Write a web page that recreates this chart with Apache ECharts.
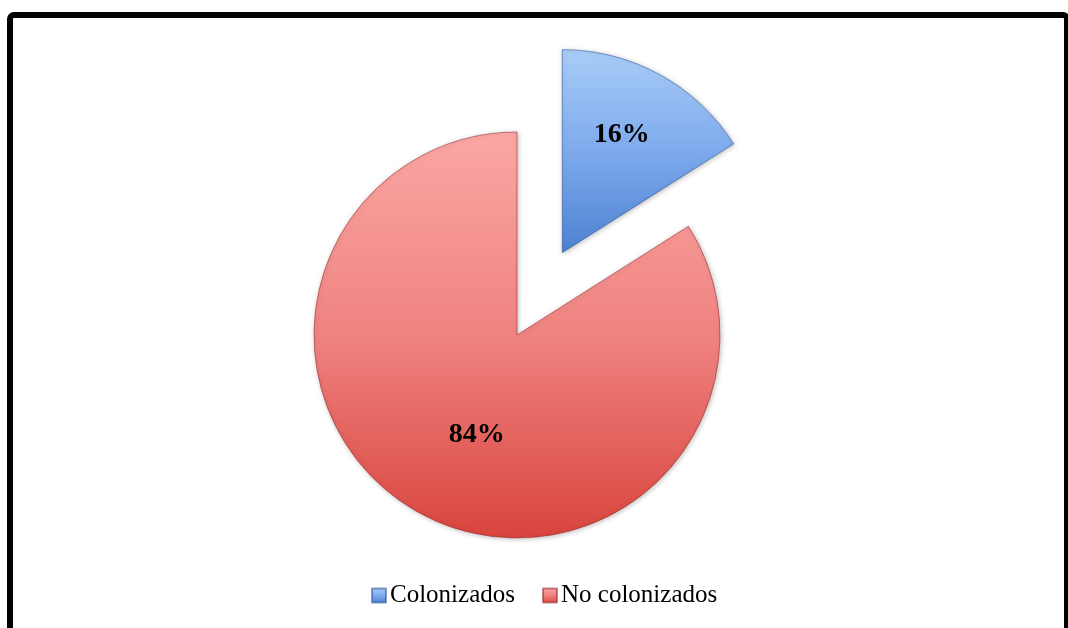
<!DOCTYPE html>
<html>
<head>
<meta charset="utf-8">
<script src="https://cdn.jsdelivr.net/npm/echarts@6/dist/echarts.min.js"></script>
<style>
  html, body { margin: 0; padding: 0; background: #ffffff; }
  #chart { width: 1068px; height: 628px; }
</style>
</head>
<body>
<div id="chart"></div>
<script>
// Share of samples by colonization status
const categories = ['Colonizados', 'No colonizados'];
const values = [16, 84];
const labels = ['16%', '84%'];

const fills = [
  { top: '#a9cdf8', mid: '#7eaaec', bottom: '#4c82d2', edge: 'rgba(40,80,150,0.55)' },
  { top: '#fba7a5', mid: '#ef8380', bottom: '#d9443e', edge: 'rgba(150,40,40,0.55)' }
];

function gradient(f) {
  return new echarts.graphic.LinearGradient(0, 0, 0, 1, [
    { offset: 0, color: f.top },
    { offset: 0.5, color: f.mid },
    { offset: 1, color: f.bottom }
  ]);
}

// label placement tweaks per slice
const labelStyles = [
  // exploded slice: a blank second line lifts the value towards the rim
  { padding: [0, 0, 0, 18], lineHeight: 52, formatter: () => labels[0] + '\n ' },
  { offset: [10, 8], formatter: () => labels[1] }
];

const data = categories.map((name, i) => ({
  name: name,
  value: values[i],
  selected: i === 0,
  itemStyle: {
    color: gradient(fills[i]),
    borderColor: fills[i].edge,
    borderWidth: 1,
    shadowBlur: 5,
    shadowColor: 'rgba(0,0,0,0.25)',
    shadowOffsetX: 1,
    shadowOffsetY: 1
  },
  label: labelStyles[i]
}));

const chart = echarts.init(document.getElementById('chart'), null, { renderer: 'canvas' });
chart.setOption({
  backgroundColor: '#ffffff',
  animation: false,
  graphic: [{
    type: 'rect',
    shape: { x: 10, y: 15, width: 1057, height: 700, r: 4 },
    style: { fill: 'none', stroke: '#000000', lineWidth: 6 },
    z: 10
  }],
  legend: {
    data: categories,
    left: 371,
    top: 583,
    padding: 0,
    icon: 'rect',
    itemWidth: 14,
    itemHeight: 14,
    itemGap: 27,
    textStyle: {
      fontFamily: 'Liberation Serif',
      fontSize: 25,
      color: '#000000',
      padding: [0, 0, 0, -1]
    }
  },
  series: [{
    type: 'pie',
    center: [517, 335],
    radius: 203,
    startAngle: 90,
    clockwise: true,
    selectedMode: 'single',
    selectedOffset: 94,
    emphasis: { disabled: true },
    label: {
      show: true,
      position: 'inside',
      fontFamily: 'Liberation Serif',
      fontWeight: 'bold',
      fontSize: 28,
      color: '#000000'
    },
    labelLine: { show: false },
    data: data
  }]
});
</script>
</body>
</html>
